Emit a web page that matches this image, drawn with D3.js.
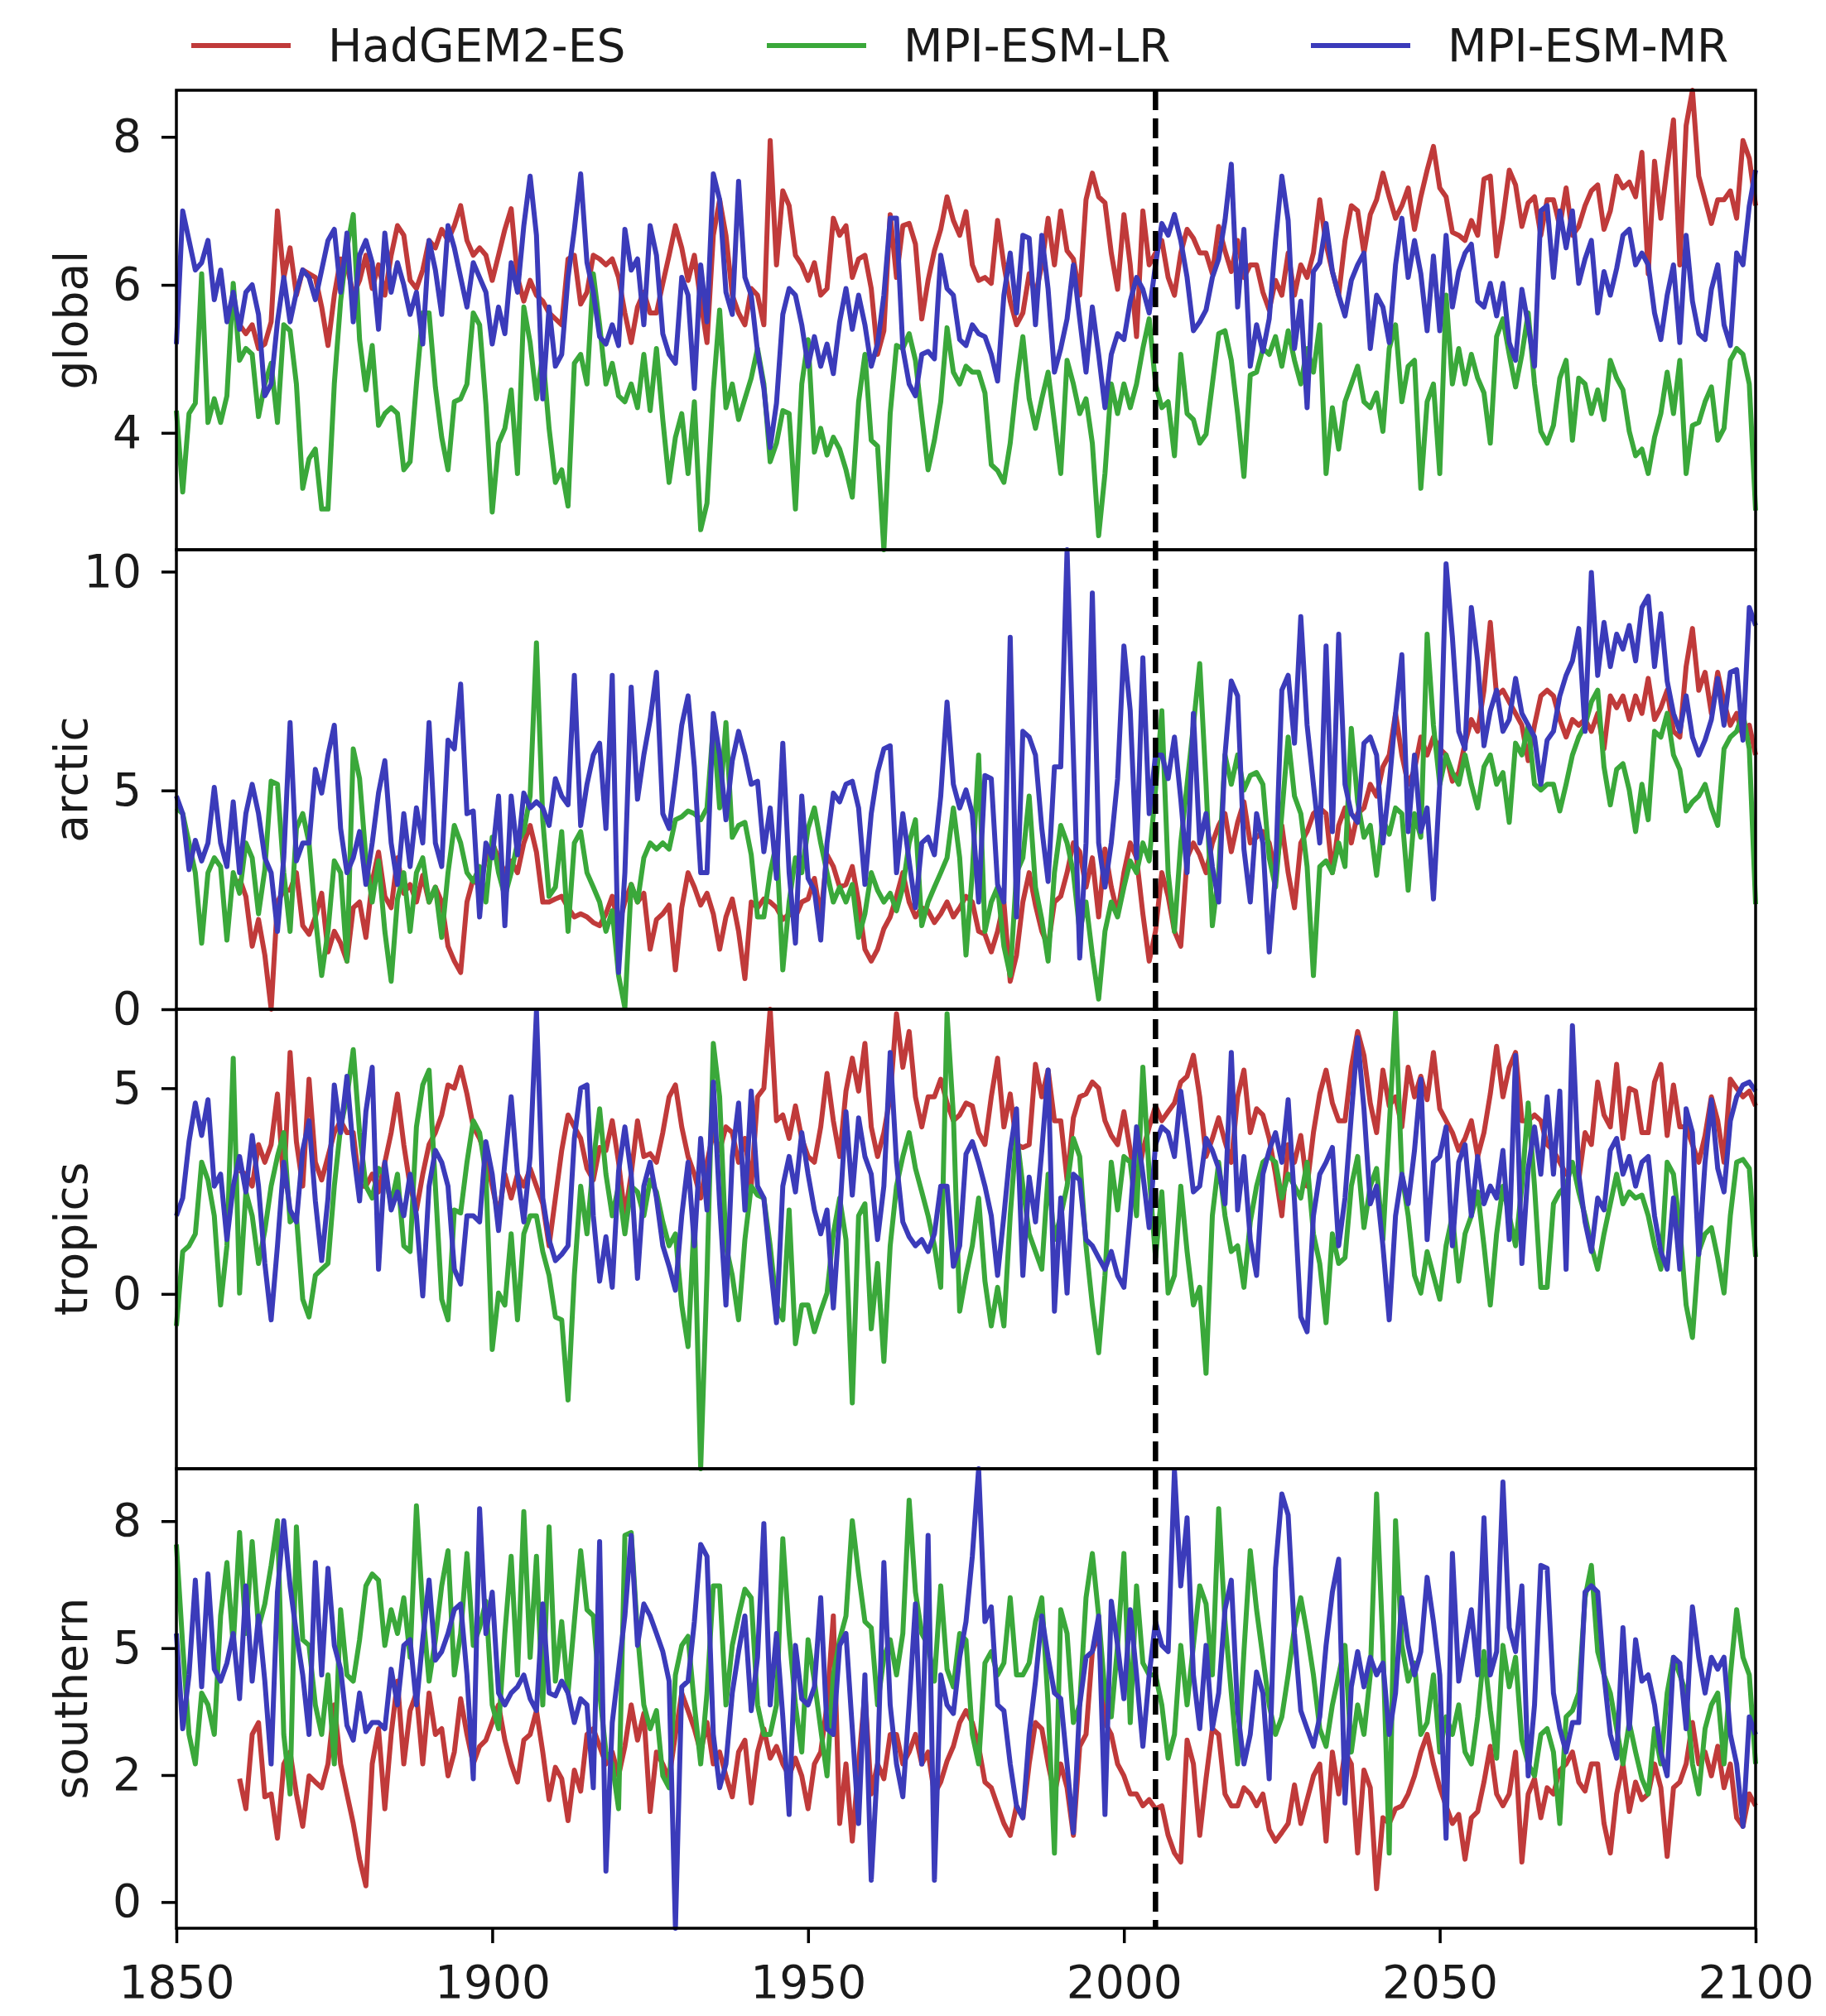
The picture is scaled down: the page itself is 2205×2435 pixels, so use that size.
<!DOCTYPE html>
<html>
<head>
<meta charset="utf-8">
<script src="https://cdn.jsdelivr.net/npm/d3@7"></script>
<style>
  body { margin: 0; background: #fff; }
  svg text { font-family: "DejaVu Sans", sans-serif; fill: #1a1a1a; }
</style>
</head>
<body>
<div id="chart"></div>
<script>
// Globals
const models = ["HadGEM2-ES", "MPI-ESM-LR", "MPI-ESM-MR"];
const colors = ["#c03a3a", "#3aa83a", "#3b3bba"];
const regions = ["global", "arctic", "tropics", "southern"];
const firstYear = 1850;
const hadStart = 1860;   // HadGEM2-ES series begin in 1860
const splitYear = 2005;  // historical / scenario boundary
const xTicks = [1850, 1900, 1950, 2000, 2050, 2100];

const globalTicks = [4, 6, 8];
const arcticTicks = [0, 5, 10];
const tropicsTicks = [0, 5];
const southernTicks = [0, 2.667, 5.333, 8];   // labelled as integers: 0 2 5 8

// ---- global ----
const globalHad = [
  5.46,5.34,5.46,5.14,5.2,5.5,7.0,6.1,6.5,5.86,
  6.2,6.15,6.1,5.7,5.18,5.86,6.35,6.27,5.86,6.06,
  6.4,5.95,6.27,5.86,6.4,6.8,6.67,6.06,5.95,6.2,
  6.6,6.5,6.75,6.6,6.8,7.07,6.6,6.4,6.5,6.4,
  6.06,6.4,6.75,7.03,6.1,5.78,6.06,5.86,5.78,5.62,
  5.54,5.46,6.35,6.4,5.74,5.9,6.4,6.35,6.27,6.35,
  6.1,5.62,5.22,5.7,5.9,5.62,5.62,6.02,6.4,6.8,
  6.5,6.06,6.4,5.78,5.22,6.67,7.15,6.67,5.86,5.62,
  5.46,5.95,5.86,5.46,7.95,6.27,7.27,7.07,6.4,6.27,
  6.06,6.3,5.86,5.95,6.9,6.67,6.8,6.1,6.35,6.4,
  5.95,5.06,5.38,6.95,6.1,6.8,6.83,6.55,5.54,6.06,
  6.46,6.75,7.19,6.87,6.67,6.99,6.27,6.06,6.1,6.02,
  6.87,6.27,5.78,5.46,5.62,6.15,5.86,6.27,6.9,6.27,
  7.0,6.46,6.35,5.86,7.15,7.51,7.19,7.11,6.43,5.94,
  6.95,6.27,5.3,7.0,6.27,6.43,6.6,6.1,5.86,6.43,
  6.75,6.63,6.43,6.43,6.15,6.79,6.46,6.18,6.6,6.1,
  6.27,6.27,5.9,5.66,6.06,5.86,6.43,5.86,6.27,6.1,
  6.43,7.15,6.55,6.18,5.86,6.6,7.07,7.0,6.43,6.95,
  7.15,7.51,7.19,6.9,7.07,7.31,6.75,7.19,7.55,7.87,
  7.31,7.19,6.71,6.67,6.6,6.87,6.67,7.43,7.47,6.39,
  6.9,7.55,7.35,6.79,7.11,7.19,6.67,7.15,7.15,6.79,
  7.31,6.67,6.79,7.07,7.27,7.35,6.75,7.0,7.47,7.31,
  7.39,7.19,7.79,6.15,7.67,6.9,7.59,8.23,6.27,8.15,
  8.63,7.47,7.15,6.83,7.15,7.15,7.27,6.9,7.95,7.71,
  7.07
];
const globalLR = [
  4.3,3.2,4.26,4.4,6.15,4.14,4.46,4.14,4.5,6.02,
  4.98,5.14,5.06,4.22,4.66,4.94,4.14,5.46,5.38,4.66,
  3.25,3.65,3.78,2.97,2.97,4.66,5.78,6.5,6.95,5.26,
  4.58,5.18,4.1,4.26,4.34,4.26,3.5,3.61,4.66,5.62,
  5.62,4.62,3.94,3.5,4.42,4.46,4.66,5.62,5.46,4.38,
  2.93,3.86,4.06,4.58,3.45,5.7,5.22,4.46,5.06,4.06,
  3.33,3.5,3.01,4.94,5.06,4.66,6.15,5.46,4.66,4.94,
  4.5,4.42,4.66,4.34,5.06,4.3,5.14,4.18,3.33,3.94,
  4.26,3.45,4.42,2.69,3.05,4.58,5.66,4.34,4.66,4.18,
  4.46,4.74,5.14,4.66,3.61,3.86,4.3,4.26,2.97,4.66,
  5.26,3.74,4.06,3.7,3.94,3.78,3.5,3.13,4.42,5.06,
  3.9,3.82,2.42,4.26,5.18,5.14,5.34,4.98,4.22,3.5,
  3.9,4.42,5.42,4.82,4.66,4.9,4.82,4.82,4.54,3.57,
  3.49,3.33,3.86,4.66,5.3,4.46,4.06,4.46,4.82,4.14,
  3.45,4.98,4.66,4.26,4.46,3.86,2.61,3.45,4.66,4.26,
  4.66,4.34,4.66,5.14,5.54,4.66,4.34,4.42,3.69,5.06,
  4.26,4.18,3.86,3.98,4.66,5.34,5.38,4.98,4.26,3.41,
  4.78,4.82,5.14,5.06,5.3,4.9,5.38,4.98,4.66,5.14,
  4.82,5.46,3.45,4.34,3.78,4.42,4.66,4.9,4.42,4.34,
  4.54,4.02,5.14,5.46,4.42,4.9,4.98,3.25,4.42,4.66,
  3.45,5.86,4.66,5.14,4.66,5.06,4.74,4.54,3.86,5.3,
  5.54,5.06,4.62,5.06,5.62,4.66,4.02,3.86,4.1,4.74,
  4.98,3.9,4.74,4.66,4.26,4.58,4.18,4.98,4.74,4.58,
  4.02,3.69,3.78,3.45,3.94,4.26,4.82,4.26,4.98,3.45,
  4.1,4.14,4.42,4.62,3.9,4.06,4.98,5.14,5.06,4.66,
  2.95
];
const globalMR = [
  5.2,7.0,6.6,6.2,6.3,6.6,5.8,6.2,5.5,5.9,
  5.4,5.9,6.0,5.6,4.5,4.66,5.5,6.1,5.5,5.9,
  6.2,6.1,5.8,6.2,6.6,6.75,5.9,6.7,5.5,6.4,
  6.6,6.3,5.4,6.7,5.9,6.3,6.0,5.6,5.9,5.2,
  6.6,6.2,5.6,6.8,6.5,6.1,5.7,6.3,6.1,5.9,
  5.2,5.7,5.34,6.3,5.9,6.8,7.47,6.67,4.46,5.7,
  4.9,5.06,6.1,6.75,7.5,6.3,5.9,5.3,5.2,5.46,
  5.18,6.75,6.2,6.35,5.46,6.8,6.4,5.34,5.06,4.94,
  6.1,5.86,4.6,6.27,5.5,7.5,7.15,5.9,5.6,7.4,
  6.1,5.86,5.1,4.6,3.8,4.4,5.6,5.95,5.86,5.46,
  4.9,5.3,4.9,5.2,4.8,5.5,5.95,5.4,5.86,5.46,
  4.9,5.2,5.86,6.9,6.9,5.14,4.66,4.5,5.06,5.1,
  5.0,6.4,5.95,5.86,5.26,5.18,5.46,5.34,5.3,5.06,
  4.7,5.86,6.43,5.62,6.67,6.63,5.46,6.67,5.94,4.82,
  5.14,5.54,6.27,5.54,4.82,5.7,5.06,4.34,5.06,5.34,
  5.26,5.78,6.1,5.94,5.62,6.27,6.83,6.67,6.95,6.6,
  6.1,5.38,5.5,5.66,6.1,6.35,6.87,7.63,5.7,6.75,
  4.9,5.46,5.1,5.54,6.6,7.47,6.87,5.14,5.78,4.34,
  6.18,6.3,6.83,6.18,5.86,5.58,6.06,6.27,6.43,5.14,
  5.86,5.7,5.22,6.27,6.9,6.1,6.6,6.15,5.38,6.39,
  5.38,6.67,5.7,6.18,6.43,6.55,5.78,5.7,6.02,5.58,
  6.02,5.22,4.98,5.94,5.46,4.9,7.0,7.07,6.1,7.0,
  6.5,7.0,6.02,6.35,6.6,5.62,6.18,5.86,6.22,6.67,
  6.75,6.27,6.43,6.27,5.62,5.26,5.86,6.27,5.22,6.67,
  5.78,5.34,5.26,5.94,6.27,5.46,5.18,6.43,6.27,7.07,
  7.55
];

// ---- arctic ----
const arcticHad = [
  2.99,2.58,1.44,2.05,1.24,0.0,2.45,2.72,2.72,3.12,
  1.91,1.71,2.11,2.65,1.31,1.78,1.51,1.1,2.32,2.45,
  1.64,2.92,3.59,2.58,2.32,3.46,2.65,2.85,2.45,3.06,
  2.45,2.79,2.45,1.44,1.1,0.84,2.45,2.99,2.79,3.46,
  3.8,3.46,3.12,3.39,3.12,3.8,4.2,3.59,2.45,2.45,
  2.52,2.58,2.32,2.11,2.18,2.11,1.98,1.91,2.18,2.58,
  1.91,2.45,2.85,2.45,2.65,1.37,2.05,2.18,2.38,0.9,
  2.32,3.12,2.79,2.38,2.65,2.18,1.37,2.11,2.52,1.78,
  0.7,2.45,2.32,2.52,2.45,2.32,2.05,2.18,2.11,2.45,
  2.52,2.99,2.11,3.53,3.26,2.79,2.85,3.26,2.45,1.37,
  1.1,1.37,1.84,2.11,2.58,3.12,2.45,2.11,2.32,2.25,
  1.98,2.18,2.45,2.11,2.32,2.58,2.45,1.78,1.71,1.31,
  1.78,2.45,0.64,1.24,2.45,3.12,2.38,1.78,1.44,2.45,
  2.58,3.12,3.8,3.6,2.79,3.46,2.11,3.66,2.79,2.18,
  3.12,3.8,3.46,2.18,1.1,1.78,3.12,2.58,1.78,1.44,
  3.46,3.8,3.53,3.12,3.8,4.2,4.47,3.6,4.27,4.74,
  3.8,3.93,4.06,3.8,3.12,4.2,3.12,2.32,3.8,4.06,
  4.47,4.6,4.47,3.12,4.2,4.6,3.8,4.47,4.6,5.14,
  4.87,5.54,5.81,6.76,5.81,5.14,5.48,6.22,5.81,6.22,
  5.95,5.81,5.21,5.41,6.08,6.62,6.35,7.29,8.84,7.16,
  7.29,7.02,6.76,6.49,5.68,6.49,7.16,7.29,7.16,6.62,
  6.22,6.62,6.49,6.62,6.35,6.76,5.95,7.16,6.89,7.16,
  6.62,7.16,6.76,7.56,6.62,6.89,7.29,6.35,6.22,7.83,
  8.7,7.29,7.7,6.76,7.7,7.02,6.49,6.76,6.22,6.49,
  5.81
];
const arcticLR = [
  4.6,4.47,3.8,3.12,1.51,3.12,3.46,3.26,1.58,3.12,
  2.65,3.8,3.46,2.18,3.19,5.21,5.14,3.12,1.78,4.13,
  4.47,3.8,2.11,0.77,1.78,3.39,3.12,1.1,5.95,5.27,
  3.46,2.45,3.39,1.78,0.64,2.52,3.12,1.78,3.12,3.46,
  2.45,2.79,1.64,3.12,4.2,3.8,3.12,2.92,3.26,2.45,
  3.93,3.12,2.58,3.12,3.8,4.06,4.87,8.37,4.33,2.58,
  2.79,4.06,1.78,3.8,4.06,3.12,2.79,2.45,1.78,2.25,
  0.77,0.03,2.85,2.45,3.46,3.8,3.66,3.8,3.66,4.33,
  4.4,4.53,4.47,4.33,4.6,6.49,4.6,6.55,3.93,4.2,
  4.27,3.53,2.11,2.11,3.12,3.8,0.9,2.45,3.46,3.12,
  4.13,4.6,3.8,3.12,2.45,2.79,2.45,2.85,1.64,2.18,
  3.12,2.72,2.45,2.65,2.25,2.79,3.8,4.33,1.91,2.45,
  2.79,3.12,3.46,4.6,3.46,1.24,3.12,5.81,1.78,2.45,
  2.79,1.44,0.77,3.12,3.46,4.87,2.79,2.05,1.1,3.12,
  4.2,3.8,3.12,1.78,2.45,1.24,0.23,1.78,2.45,2.11,
  2.79,3.39,3.12,3.8,3.39,5.01,6.82,3.12,1.78,3.8,
  5.14,6.49,7.9,5.14,1.91,3.12,5.81,5.14,5.81,5.01,
  5.34,5.41,5.14,3.46,2.79,4.47,6.22,4.87,4.47,3.26,
  0.77,3.26,3.39,3.12,3.8,3.26,6.42,4.74,3.93,4.2,
  3.06,4.33,4.0,4.6,4.47,2.72,4.47,3.93,8.57,6.49,
  5.14,5.81,5.41,5.14,5.81,5.14,4.6,5.54,5.81,5.14,
  5.41,4.27,6.08,5.81,6.49,5.14,5.01,5.14,5.14,4.53,
  5.14,5.81,6.22,6.49,7.02,7.29,5.54,4.67,5.48,5.61,
  5.01,4.06,5.14,4.33,6.35,6.22,6.76,5.81,5.48,4.53,
  4.74,4.87,5.14,4.6,4.2,5.95,6.22,6.35,6.76,5.95,
  2.4
];
const arcticMR = [
  4.87,4.47,3.19,3.86,3.39,3.8,5.07,3.8,3.26,4.74,
  3.12,4.47,5.14,4.47,3.46,3.12,1.78,3.46,6.55,3.39,
  3.8,3.8,5.48,4.94,5.81,6.49,4.13,3.12,3.46,4.06,
  2.85,3.8,4.94,5.68,3.8,2.85,4.47,3.26,4.6,3.8,
  6.55,3.8,3.26,6.15,5.95,7.43,4.47,4.53,2.11,3.8,
  3.46,4.87,1.91,4.87,3.53,4.94,4.6,4.74,4.6,4.2,
  5.27,4.87,4.67,7.63,4.2,5.14,5.81,6.08,4.13,7.63,
  0.84,3.12,7.36,4.8,5.81,6.62,7.7,4.47,4.13,5.27,
  6.49,7.16,5.54,3.12,3.12,6.76,5.81,4.33,5.68,6.35,
  5.81,5.14,5.21,3.6,4.6,2.99,6.08,3.12,1.51,4.87,
  2.99,2.72,1.58,3.8,4.94,4.74,5.14,5.21,4.6,2.85,
  4.47,5.41,5.95,6.02,3.12,4.47,3.39,2.32,3.8,3.93,
  3.53,4.87,7.02,5.14,4.6,5.01,4.47,2.45,5.34,5.27,
  2.85,2.45,8.5,2.11,6.35,6.22,5.81,4.13,2.92,5.54,
  5.54,10.5,5.81,1.17,3.8,9.51,3.8,2.79,3.8,5.27,
  8.3,6.82,3.46,8.03,4.47,5.81,5.81,5.27,6.22,4.8,
  3.12,6.76,3.8,4.47,3.26,2.45,5.81,7.5,7.16,3.66,
  2.45,4.47,3.8,1.31,3.12,7.29,7.63,6.08,8.97,6.49,
  5.14,3.8,8.3,4.06,8.57,5.14,4.47,4.27,6.08,6.22,
  5.81,3.8,5.14,6.76,8.1,4.06,5.81,4.06,4.6,2.52,
  5.14,10.18,8.5,6.35,5.95,9.18,7.96,6.02,6.82,7.29,
  6.35,6.62,7.56,6.76,6.49,6.22,5.14,6.15,6.35,7.16,
  7.63,7.96,8.7,6.35,9.98,7.63,8.84,7.83,8.57,8.23,
  8.77,7.96,9.18,9.44,7.83,9.04,7.5,6.76,6.35,7.16,
  6.22,5.81,6.15,6.62,7.56,6.49,7.7,7.76,6.15,9.18,
  8.77
];

// ---- tropics ----
const tropicsHad = [
  3.0,2.91,2.62,3.63,3.2,3.63,4.86,2.62,5.87,3.7,
  2.62,5.22,3.2,2.77,3.34,3.92,4.21,3.92,3.92,2.62,
  2.62,2.91,2.48,3.2,3.92,4.86,3.63,2.62,2.04,2.91,
  3.63,3.92,4.35,5.08,5.0,5.51,4.86,4.06,3.78,3.34,
  2.62,1.9,2.91,2.33,2.91,2.62,3.05,2.62,2.19,1.17,
  2.33,3.49,4.35,4.06,3.78,3.05,2.77,3.56,3.49,4.21,
  3.2,1.9,2.91,4.21,3.34,3.41,3.2,3.92,4.79,5.08,
  4.06,3.34,2.91,2.33,3.2,3.92,3.49,4.06,3.92,3.2,
  3.78,2.62,4.79,5.0,6.92,4.21,4.35,3.78,4.57,3.78,
  3.34,3.2,4.06,5.36,4.21,3.34,4.93,5.73,4.93,6.09,
  4.06,3.34,3.92,4.79,6.81,5.51,6.38,4.79,4.06,4.79,
  4.79,5.22,4.64,4.21,4.35,4.64,4.57,3.92,3.63,4.79,
  5.73,4.06,4.86,3.63,3.56,3.63,5.58,4.79,5.44,4.21,
  4.21,2.77,4.28,4.79,4.86,5.15,5.0,4.21,3.85,3.63,
  4.43,3.49,2.62,3.49,4.06,4.57,4.21,4.43,4.64,5.15,
  5.29,5.8,4.79,3.34,3.78,4.28,3.7,3.2,4.79,5.44,
  3.92,4.5,4.35,3.78,2.91,1.9,3.63,3.2,3.85,2.62,
  3.92,4.86,5.44,4.64,4.21,4.21,5.51,6.38,5.8,4.64,
  3.92,5.44,4.57,4.79,4.06,5.51,4.79,5.29,4.72,5.87,
  4.5,4.21,3.92,3.49,3.78,4.21,3.34,3.92,4.86,6.02,
  4.79,5.51,5.87,4.21,4.21,4.35,4.21,3.63,3.49,3.2,
  2.91,3.05,2.77,3.92,3.63,5.15,4.35,4.06,5.58,3.78,
  5.0,4.93,3.92,3.92,5.15,5.58,3.85,5.08,4.06,4.06,
  3.63,3.2,3.85,4.79,4.21,3.2,5.22,5.0,4.79,4.93,
  4.57
];
const tropicsLR = [
  -0.78,1.03,1.17,1.46,3.2,2.77,1.9,-0.27,1.17,5.73,
  0.02,2.48,1.9,0.74,1.54,2.62,3.34,3.92,1.75,1.9,
  -0.13,-0.56,0.45,0.6,0.74,2.62,4.06,4.79,5.94,3.92,
  2.62,2.33,3.05,2.91,2.19,2.91,1.17,1.03,4.06,5.08,
  5.44,2.62,-0.13,-0.63,2.04,1.97,3.2,4.21,3.92,2.91,
  -1.35,0.02,-0.27,1.46,-0.63,1.46,1.9,1.9,1.03,0.45,
  -0.56,-0.63,-2.58,0.45,2.62,1.46,3.2,4.5,2.91,1.9,
  2.62,1.46,2.62,2.48,1.9,2.77,2.48,1.75,1.17,1.46,
  -0.27,-1.28,1.9,-4.25,0.45,6.09,4.79,1.17,0.45,-0.63,
  1.32,2.62,2.4,2.33,1.17,-0.27,-0.63,2.04,-1.21,-0.27,
  -0.27,-0.92,-0.42,0.02,1.46,2.33,1.32,-2.65,1.9,2.19,
  -0.85,0.74,-1.64,1.17,2.62,3.34,3.92,3.05,2.48,1.9,
  1.17,0.16,6.81,4.35,-0.42,0.45,1.17,2.33,0.31,-0.78,
  0.16,-0.78,1.9,3.92,2.62,1.46,1.03,0.6,2.91,1.32,
  1.9,2.62,3.78,3.34,1.17,-0.27,-1.43,0.45,3.2,2.04,
  3.34,3.2,1.9,5.51,2.91,0.88,2.48,0.02,0.45,2.62,
  1.03,-0.27,0.16,-1.93,1.9,3.2,1.9,1.03,1.17,0.16,
  1.75,2.62,3.2,3.34,3.2,2.33,2.91,2.62,2.33,3.2,
  1.46,0.74,-0.7,1.46,0.74,0.88,2.62,3.34,1.61,2.62,
  3.05,1.32,4.06,6.85,2.91,1.9,0.45,0.02,1.03,0.45,
  -0.13,1.17,1.9,0.31,1.46,1.9,2.48,1.17,-0.27,1.46,
  2.62,1.9,1.17,2.62,4.64,2.62,0.16,0.16,2.19,2.48,
  2.62,3.2,2.48,1.9,1.17,0.6,1.46,2.19,2.91,2.19,
  2.48,2.33,2.4,1.9,1.17,0.6,3.2,2.91,1.61,-0.27,
  -1.06,1.03,1.46,1.61,0.88,0.02,1.9,3.2,3.27,3.05,
  0.9
];
const tropicsMR = [
  1.9,2.33,3.7,4.64,3.85,4.72,2.62,2.91,1.32,2.62,
  3.34,2.48,3.85,2.62,0.74,-0.63,1.17,3.2,2.04,1.75,
  3.49,4.21,2.26,0.81,2.33,5.08,3.92,5.29,3.49,2.26,
  4.43,5.51,0.6,3.2,2.04,2.48,1.9,2.91,1.9,-0.05,
  2.62,3.49,3.2,2.62,0.6,0.24,1.9,1.9,1.75,3.7,
  2.91,1.54,3.2,4.79,2.91,1.75,3.34,6.88,2.33,1.32,
  0.81,0.96,1.17,3.78,5.0,5.08,1.9,0.31,1.39,0.16,
  2.98,4.06,2.91,0.38,2.62,3.2,2.33,1.17,0.67,0.09,
  1.9,3.2,1.17,3.78,2.04,5.15,2.19,-0.27,3.34,4.64,
  2.04,4.93,2.62,2.33,0.74,-0.7,2.62,3.34,2.48,3.92,
  2.91,2.04,1.46,2.04,-0.34,1.9,4.43,2.4,4.28,3.34,
  2.91,1.32,2.62,5.87,3.2,1.75,1.39,1.17,1.32,1.03,
  1.46,2.62,2.62,0.67,1.17,3.4,3.7,3.2,2.62,1.9,
  0.45,1.9,3.49,4.5,0.45,2.84,1.75,3.49,5.44,-0.42,
  2.33,0.02,2.91,2.77,1.32,1.17,0.88,0.6,1.03,0.45,
  0.16,1.9,4.06,2.91,1.61,3.63,4.06,3.92,3.34,4.93,
  3.78,2.48,2.62,3.78,3.49,3.05,2.19,5.87,2.04,3.34,
  1.32,0.45,2.91,3.49,3.92,3.2,4.72,2.26,-0.56,-0.92,
  1.9,2.91,3.2,3.56,1.17,2.33,4.35,6.23,4.5,2.19,
  2.62,1.17,-0.63,1.9,2.91,2.19,3.49,5.22,1.32,3.2,
  3.34,4.06,1.17,3.2,3.63,1.9,3.34,2.19,2.62,2.33,
  3.49,1.32,5.8,0.74,3.05,4.06,2.91,4.79,2.91,4.93,
  0.6,6.52,2.91,1.75,1.03,2.33,2.04,3.49,3.78,2.91,
  3.34,2.62,3.2,3.34,1.9,1.03,0.6,2.33,0.6,4.5,
  3.92,0.96,3.2,4.72,3.05,2.48,4.21,4.79,5.08,5.15,
  4.93
];

// ---- southern ----
const southernHad = [
  2.59,1.96,3.52,3.77,2.21,2.27,1.34,2.9,3.15,2.27,
  1.59,2.65,2.52,2.4,2.9,4.14,2.9,2.27,1.65,0.9,
  0.34,2.9,3.64,1.96,3.52,4.64,2.9,4.02,4.39,2.9,
  4.39,3.52,3.64,2.65,3.15,4.27,3.52,2.9,3.27,3.4,
  3.77,4.14,3.4,2.9,2.52,3.4,3.52,4.02,3.15,2.15,
  2.83,2.59,1.71,2.77,2.33,3.52,3.64,3.27,2.9,3.15,
  2.65,3.27,4.14,3.4,3.96,1.9,3.15,2.9,2.59,3.52,
  4.39,4.02,3.64,3.15,3.77,2.9,3.15,2.65,2.21,3.15,
  3.4,2.08,3.15,3.64,3.02,3.27,2.9,2.65,3.02,2.65,
  1.96,2.9,3.15,4.14,6.01,1.65,2.9,1.28,2.9,4.39,
  2.27,2.9,2.59,3.52,3.52,2.9,3.15,3.52,2.9,3.15,
  2.27,2.52,2.96,3.27,3.77,4.02,3.77,3.27,2.52,2.4,
  2.02,1.65,1.4,2.02,1.77,2.9,3.77,3.64,2.9,2.27,
  2.9,2.4,1.4,3.27,3.52,5.26,5.64,3.77,3.52,2.9,
  2.65,2.27,2.27,2.02,2.15,1.96,2.02,1.4,1.03,0.84,
  3.4,2.9,1.4,2.59,3.64,3.52,2.27,2.02,2.02,2.4,
  2.27,2.02,2.27,1.52,1.28,1.46,1.65,2.46,1.65,2.15,
  2.65,2.9,1.28,3.15,2.27,3.15,2.9,1.03,2.77,2.4,
  0.28,1.77,1.65,1.96,2.02,2.27,2.65,3.15,3.52,2.9,
  2.4,2.02,1.65,1.84,0.9,1.77,1.9,2.52,3.27,2.27,
  2.02,2.27,3.15,0.84,2.27,2.59,1.77,2.4,2.27,2.77,
  2.9,3.15,2.52,2.33,2.9,2.9,1.65,1.03,2.27,2.9,
  1.9,2.52,2.15,2.27,2.9,2.4,0.96,2.4,2.52,2.9,
  3.77,2.9,3.15,2.65,3.27,2.4,2.9,1.77,1.59,2.27,
  2.02
];
const southernLR = [
  7.51,5.39,3.52,2.9,4.39,4.14,3.52,6.01,7.13,5.39,
  7.76,5.64,7.57,5.76,6.26,7.07,8.01,3.52,2.27,7.88,
  5.51,5.39,4.14,3.52,4.77,2.9,6.14,4.77,4.64,5.51,
  6.64,6.89,6.76,5.39,6.14,5.64,6.39,5.14,8.32,6.14,
  4.64,5.51,6.64,7.38,4.77,5.64,7.32,5.39,5.76,6.32,
  4.14,3.64,5.64,7.26,4.77,8.2,5.14,7.26,4.14,7.88,
  4.64,5.89,4.39,5.89,7.38,6.14,6.01,4.39,3.15,2.9,
  1.96,7.7,7.76,5.64,4.14,3.64,4.02,2.65,2.4,4.77,
  5.39,5.58,4.14,2.9,4.39,6.64,6.64,4.14,5.39,6.01,
  6.57,6.39,4.14,3.52,3.52,4.14,7.63,5.64,4.14,3.15,
  5.51,4.64,3.64,2.65,4.77,5.51,6.01,8.01,6.89,5.89,
  5.76,4.14,5.14,5.51,4.77,5.64,8.44,6.51,5.64,5.39,
  4.64,6.64,4.89,4.52,5.64,5.5,3.52,2.9,5.02,5.26,
  4.77,5.02,6.39,4.77,4.77,5.02,5.89,6.39,4.14,1.03,
  6.14,5.64,3.77,4.14,6.39,7.32,6.01,4.39,3.89,5.39,
  7.32,3.77,6.64,5.02,4.77,4.77,4.14,3.02,3.52,5.39,
  4.14,5.39,6.64,6.26,4.77,8.26,5.89,4.39,2.9,5.26,
  7.38,6.14,5.14,4.14,3.52,3.89,4.77,5.76,6.39,5.64,
  4.77,3.64,3.27,4.14,4.77,5.39,3.15,4.14,3.52,4.77,
  8.57,5.39,1.03,8.01,5.39,4.64,5.02,3.52,3.77,4.77,
  3.15,3.89,3.52,4.14,3.15,2.9,3.89,5.26,4.02,3.02,
  5.39,4.52,5.14,3.4,2.9,2.65,3.52,3.64,3.15,1.65,
  3.89,4.02,4.39,6.39,7.07,5.26,4.77,4.39,3.64,2.9,
  3.77,3.15,2.59,2.27,3.64,2.9,4.39,5.14,4.77,4.39,
  2.9,2.27,3.64,4.14,4.39,2.9,4.77,6.14,5.14,4.77,
  2.9
];
const southernMR = [
  5.64,3.64,4.77,6.76,4.52,6.89,4.89,4.64,5.02,5.64,
  4.27,6.64,4.64,6.01,4.64,2.9,6.51,8.01,6.64,5.64,
  4.77,3.52,7.13,4.77,7.01,5.39,4.89,3.71,3.4,4.39,
  3.58,3.77,3.77,3.64,4.89,4.14,5.39,5.51,4.14,5.51,
  6.76,5.08,5.26,5.64,6.14,6.26,4.77,2.59,8.26,5.64,
  6.51,4.39,4.14,4.39,4.52,4.77,4.27,4.02,6.26,4.39,
  4.33,4.64,4.39,3.77,4.27,4.14,2.4,7.57,0.65,3.77,
  4.89,6.01,7.7,5.39,6.26,6.01,5.64,5.26,4.64,-0.55,
  4.52,4.64,5.89,7.51,7.26,3.52,2.4,2.9,4.39,5.26,
  6.01,4.02,5.14,7.95,4.14,5.64,3.89,1.84,5.39,4.27,
  4.14,4.52,6.39,3.64,3.52,5.39,5.64,3.64,1.65,4.77,
  0.46,2.9,7.13,4.14,2.9,2.21,4.14,6.26,2.9,7.7,
  0.46,4.77,4.14,3.96,5.14,5.89,7.26,9.1,5.89,6.2,
  4.14,4.02,2.9,2.02,1.77,3.52,4.64,6.01,5.14,4.39,
  4.27,2.9,1.46,4.14,5.14,5.26,6.01,1.84,6.32,5.39,
  4.27,6.14,4.77,3.27,4.77,5.89,5.39,5.26,9.07,6.64,
  8.07,4.77,3.64,5.39,3.64,4.39,6.14,6.76,4.02,2.9,
  3.52,4.83,4.39,2.59,7.01,8.57,8.13,5.64,4.02,3.64,
  3.27,3.89,5.39,6.51,7.2,2.08,4.52,5.26,4.52,5.14,
  4.77,5.02,3.52,4.39,6.39,5.39,4.77,5.26,6.82,5.89,
  4.77,1.34,7.32,4.64,5.39,6.14,4.77,8.07,4.77,5.26,
  8.82,5.76,5.26,6.64,2.65,4.14,7.07,7.01,4.39,3.64,
  3.15,3.77,3.77,6.51,6.64,6.51,4.77,3.52,3.02,5.76,
  3.64,5.51,4.64,4.77,4.14,3.15,2.65,5.14,5.02,3.64,
  6.2,5.14,4.39,5.14,4.89,5.14,3.52,2.9,1.59,3.89,
  3.52
];

// layout (pixels)
const W = 2205, H = 2435;
const plotLeft = 213, plotRight = 2120, plotTop = 109;
const panelH = 555;
const fontSize = 55;
const legendY = 55;
const legendX = [231, 926, 1583];

const panelSeries = [
  [globalHad, globalLR, globalMR],
  [arcticHad, arcticLR, arcticMR],
  [tropicsHad, tropicsLR, tropicsMR],
  [southernHad, southernLR, southernMR]
];
const panelTicks = [globalTicks, arcticTicks, tropicsTicks, southernTicks];
const startYears = [hadStart, firstYear, firstYear];

const svg = d3.select("#chart")
  .append("svg")
    .attr("width", W)
    .attr("height", H)
    .style("background", "#fff");

const x = d3.scaleLinear()
  .domain([1850, 2100])
  .range([plotLeft, plotRight]);

const plotBottom = plotTop + panelH * regions.length;

panelSeries.forEach(function(series, i) {
  const top = plotTop + i * panelH;
  const allVals = series.flat();
  const y = d3.scaleLinear()
    .domain(d3.extent(allVals))
    .range([top + panelH, top]);

  const g = svg.append("g");

  // lines: HadGEM2-ES, MPI-ESM-LR, MPI-ESM-MR (last on top)
  series.forEach(function(vals, k) {
    const pts = vals.map((v, j) => ({year: startYears[k] + j, v: v}));
    g.append("path")
      .datum(pts)
      .attr("fill", "none")
      .attr("stroke", colors[k])
      .attr("stroke-width", 6)
      .attr("stroke-linejoin", "round")
      .attr("d", d3.line().x(d => x(d.year)).y(d => y(d.v)));
  });

  // y axis
  const ya = svg.append("g")
    .attr("transform", "translate(" + plotLeft + ",0)")
    .call(d3.axisLeft(y)
      .tickValues(panelTicks[i])
      .tickSize(18)
      .tickPadding(24)
      .tickFormat(d => String(Math.floor(d + 1e-9))));
  ya.select(".domain").remove();
  ya.selectAll(".tick line").attr("stroke", "#000").attr("stroke-width", 3.5);
  ya.selectAll(".tick text")
    .attr("font-size", fontSize)
    .attr("font-family", "DejaVu Sans")
    .attr("fill", "#1a1a1a");

  // region label
  svg.append("text")
    .attr("transform", "translate(86," + (top + panelH / 2) + ") rotate(-90)")
    .attr("text-anchor", "middle")
    .attr("dominant-baseline", "central")
    .attr("font-size", fontSize)
    .text(regions[i]);

  // frame
  svg.append("rect")
    .attr("x", plotLeft)
    .attr("y", top)
    .attr("width", plotRight - plotLeft)
    .attr("height", panelH)
    .attr("fill", "none")
    .attr("stroke", "#000")
    .attr("stroke-width", 3.5);
});

// x axis at the bottom panel
const xa = svg.append("g")
  .attr("transform", "translate(0," + plotBottom + ")")
  .call(d3.axisBottom(x)
    .tickValues(xTicks)
    .tickSize(18)
    .tickPadding(27)
    .tickFormat(d3.format("d")));
xa.select(".domain").remove();
xa.selectAll(".tick line").attr("stroke", "#000").attr("stroke-width", 3.5);
xa.selectAll(".tick text")
  .attr("font-size", fontSize)
  .attr("font-family", "DejaVu Sans")
  .attr("fill", "#1a1a1a");

// historical / scenario split
svg.append("line")
  .attr("x1", x(splitYear))
  .attr("x2", x(splitYear))
  .attr("y1", plotTop)
  .attr("y2", plotBottom)
  .attr("stroke", "#000")
  .attr("stroke-width", 6.5)
  .attr("stroke-dasharray", "24,10");

// legend
models.forEach(function(name, k) {
  svg.append("line")
    .attr("x1", legendX[k])
    .attr("x2", legendX[k] + 120)
    .attr("y1", legendY)
    .attr("y2", legendY)
    .attr("stroke", colors[k])
    .attr("stroke-width", 6);
  svg.append("text")
    .attr("x", legendX[k] + 165)
    .attr("y", legendY)
    .attr("dominant-baseline", "central")
    .attr("font-size", fontSize)
    .text(name);
});
</script>
</body>
</html>
